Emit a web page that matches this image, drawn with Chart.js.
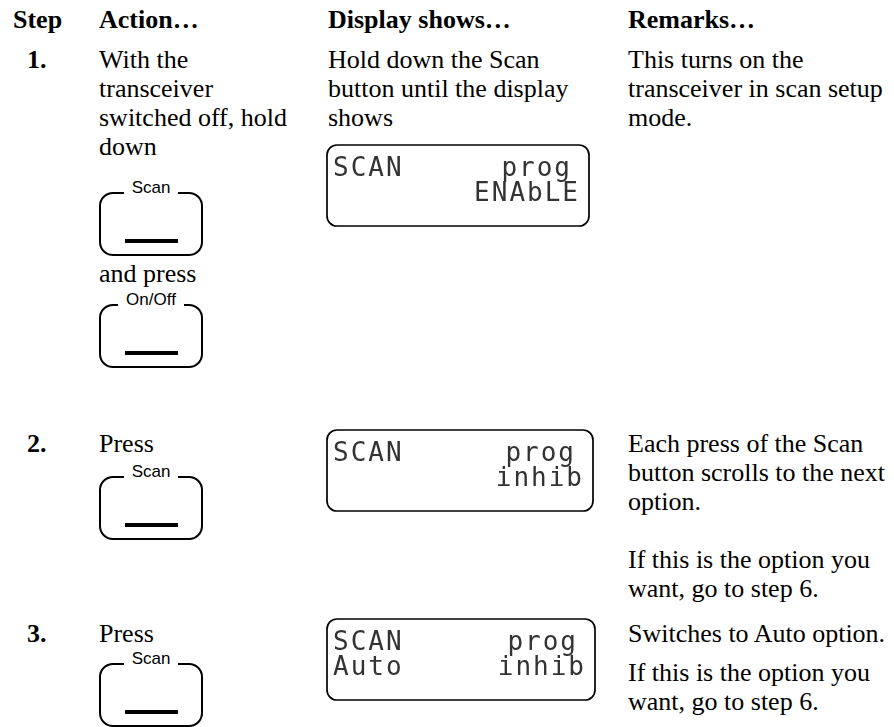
<!DOCTYPE html>
<html>
<head>
<meta charset="utf-8">
<script src="https://cdn.jsdelivr.net/npm/chart.js@4.4.0/dist/chart.umd.min.js"></script>
<style>
html, body { margin: 0; background: #fff; }
#page { position: relative; width: 894px; height: 727px; overflow: hidden;
        font-family: "Liberation Serif", "Times New Roman", serif; font-size: 26px; color: #000; }
.t { position: absolute; white-space: pre; line-height: 29px; }
.b { font-weight: bold; }
.btn { position: absolute; box-sizing: border-box; width: 104px; height: 64px;
       border: 2px solid #000; border-radius: 14px; }
.btn .lbl { position: absolute; left: 0; right: 0; top: -15px; text-align: center;
            font-family: "Liberation Sans", Arial, sans-serif; font-size: 17px; line-height: 17px; }
.btn .lbl span { background: #fff; padding: 0 8px; }
.btn .bar { position: absolute; left: 24px; width: 53px; height: 4px; bottom: 11px; background: #000; }
.lcd { position: absolute; }
</style>
</head>
<body>
<div id="page"></div>
<script>
// column headings and step numbers
const headings = ['Step', 'Action…', 'Display shows…', 'Remarks…'];
const steps = ['1.', '2.', '3.'];

// action column: text lines and buttons, per step
const actionText = [
  [['With the', 'transceiver', 'switched off, hold', 'down'], ['and press']],
  [['Press']],
  [['Press']]
];
const actionButtons = [['Scan', 'On/Off'], ['Scan'], ['Scan']];

// display column
const displayText = [['Hold down the Scan', 'button until the display', 'shows'], [], []];
const lcdTop = [['SCAN', 'prog'], ['SCAN', 'prog'], ['SCAN', 'prog']];
const lcdBottom = [['', 'ENAbLE'], ['', 'inhib'], ['Auto', 'inhib']];

// remarks column, paragraphs per step
const remarks = [
  [['This turns on the', 'transceiver in scan setup', 'mode.']],
  [['Each press of the Scan', 'button scrolls to the next', 'option.'], ['If this is the option you', 'want, go to step 6.']],
  [['Switches to Auto option.'], ['If this is the option you', 'want, go to step 6.']]
];

// layout
const colX = [13, 99, 328, 628];
const stepX = 27;
const headBase = 28;
const rowBase = [68, 452, 642];
const actionTextBase = [[68, 282], [452], [642]];
const buttonTop = [[192, 304], [476], [663]];
const lcdBox = [[326, 144, 264], [326, 429, 268], [326, 618, 270]];
const remarkParaBase = [[68], [452, 568], [642, 681]];
const ASC = 23;

const page = document.getElementById('page');

function lines(arr, x, base, bold) {
  const d = document.createElement('div');
  d.className = 't' + (bold ? ' b' : '');
  d.style.left = x + 'px';
  d.style.top = (base - ASC) + 'px';
  d.textContent = arr.join('\n');
  page.appendChild(d);
}

function button(label, x, top) {
  const d = document.createElement('div');
  d.className = 'btn';
  d.style.left = x + 'px';
  d.style.top = top + 'px';
  d.innerHTML = '<div class="lbl"><span></span></div><div class="bar"></div>';
  d.querySelector('span').textContent = label;
  page.appendChild(d);
}

headings.forEach((h, i) => lines([h], colX[i], headBase, true));

// draws the rounded LCD frame and its two text rows on the chart's category scales
const lcdPlugin = {
  id: 'lcd',
  afterDraw(chart) {
    const { ctx, scales: { x, y } } = chart;
    const rows = chart.config.options.plugins.lcd.rows;
    ctx.save();
    ctx.strokeStyle = '#000';
    ctx.lineWidth = 1.7;
    ctx.beginPath();
    ctx.roundRect(1, 1, chart.width - 2, chart.height - 2, 10);
    ctx.stroke();
    ctx.font = '26px "DejaVu Sans Mono", monospace';
    ctx.letterSpacing = '2px';
    ctx.fillStyle = '#333';
    rows.forEach((r, i) => {
      const py = y.getPixelForValue(i) + 9.5;
      ctx.textAlign = 'left';
      ctx.fillText(r[0], x.getPixelForValue(0), py);
      ctx.textAlign = 'right';
      ctx.fillText(r[1], x.getPixelForValue(1) + 2 - (i === 0 ? 8 : 0), py);
    });
    ctx.restore();
  }
};

steps.forEach((s, i) => {
  lines([s], stepX, rowBase[i], true);

  actionText[i].forEach((block, j) => lines(block, colX[1], actionTextBase[i][j], false));
  actionButtons[i].forEach((lab, j) => button(lab, colX[1], buttonTop[i][j]));

  if (displayText[i].length) lines(displayText[i], colX[2], rowBase[i], false);

  remarks[i].forEach((para, j) => lines(para, colX[3], remarkParaBase[i][j], false));

  const [bx, by, bw] = lcdBox[i];
  const wrap = document.createElement('div');
  wrap.className = 'lcd';
  wrap.style.left = bx + 'px';
  wrap.style.top = by + 'px';
  wrap.style.width = bw + 'px';
  wrap.style.height = '83px';
  const cv = document.createElement('canvas');
  wrap.appendChild(cv);
  page.appendChild(wrap);

  new Chart(cv, {
    type: 'scatter',
    data: { datasets: [] },
    options: {
      responsive: true,
      maintainAspectRatio: false,
      animation: false,
      events: [],
      layout: { padding: { top: 10, bottom: 23, left: 7, right: 12 } },
      plugins: {
        legend: { display: false },
        tooltip: { enabled: false },
        lcd: { rows: [lcdTop[i], lcdBottom[i]] }
      },
      scales: {
        x: { type: 'category', labels: ['left', 'right'], display: false, offset: false },
        y: { type: 'category', labels: ['top', 'bottom'], display: false, offset: true }
      }
    },
    plugins: [lcdPlugin]
  });
});
</script>
</body>
</html>
